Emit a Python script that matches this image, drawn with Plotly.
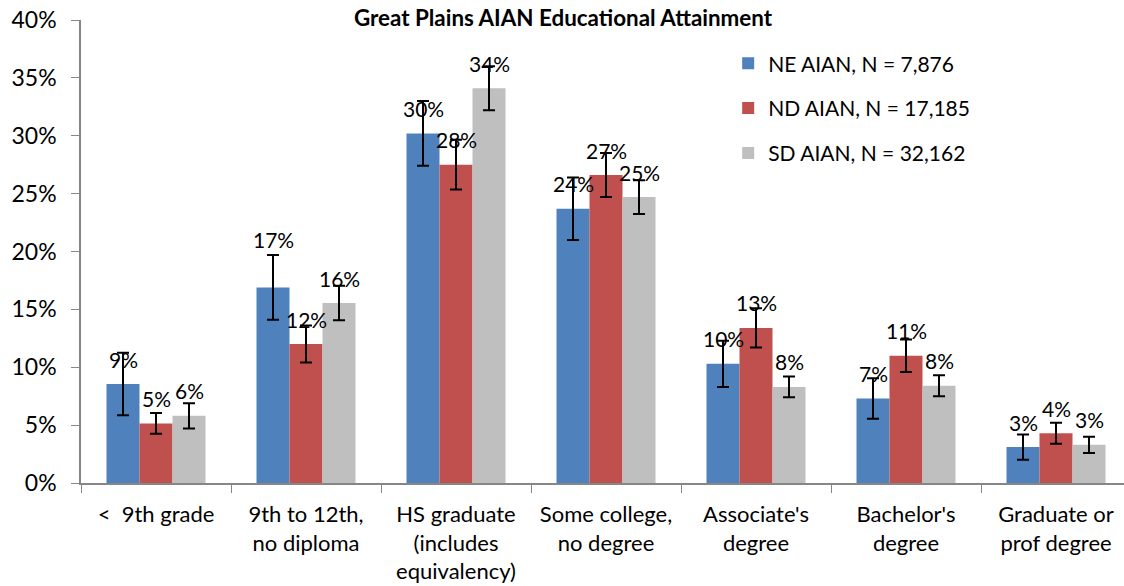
import plotly.graph_objects as go

categories = ["<  9th grade", "9th to 12th,<br>no diploma", "HS graduate<br>(includes<br>equivalency)",
              "Some college,<br>no degree", "Associate's<br>degree", "Bachelor's<br>degree",
              "Graduate or<br>prof degree"]
series_names = ["NE AIAN, N = 7,876", "ND AIAN, N = 17,185", "SD AIAN, N = 32,162"]
ne_values = [8.55, 16.9, 30.2, 23.7, 10.3, 7.3, 3.1]
nd_values = [5.15, 12.0, 27.5, 26.6, 13.4, 11.0, 4.3]
sd_values = [5.8, 15.55, 34.1, 24.7, 8.3, 8.4, 3.3]
ne_err = [2.7, 2.8, 2.8, 2.7, 2.0, 1.75, 1.1]
nd_err = [0.9, 1.6, 2.15, 1.9, 1.7, 1.4, 0.9]
sd_err = [1.1, 1.5, 1.9, 1.45, 0.9, 0.9, 0.7]

colors = ["#4F81BD", "#C0504D", "#BFBFBF"]
FONT = "Lato"

fig = go.Figure()
all_vals = [ne_values, nd_values, sd_values]
all_errs = [ne_err, nd_err, sd_err]
for name, vals, errs, col in zip(series_names, all_vals, all_errs, colors):
    fig.add_trace(go.Bar(
        x=categories, y=vals, name=name, legendgroup=name,
        marker=dict(color=col, line=dict(width=0)),
        error_y=dict(type="data", array=errs, visible=True, color="black", thickness=2, width=6),
    ))

BAR_PX = 33
annotations = []
for si, vals in enumerate(all_vals):
    for ci, v in enumerate(vals):
        shift = 25
        if si == 0 and ci == 1:
            shift = 48
        annotations.append(dict(
            x=categories[ci], y=v, xref="x", yref="y", text=f"{v:.0f}%",
            showarrow=False, xshift=(si - 1) * BAR_PX, yshift=shift, yanchor="middle",
            font=dict(family=FONT, size=21, color="black"),
        ))

W, H = 1124, 586
fig.update_layout(
    width=W, height=H,
    margin=dict(l=81, r=0, t=20, b=103, autoexpand=False),
    paper_bgcolor="white", plot_bgcolor="white",
    barmode="group", bargap=0.34, bargroupgap=0,
    font=dict(family=FONT, size=21, color="black"),
    title=dict(text="<b>Great Plains AIAN Educational Attainment</b>", x=563 / W, xanchor="center",
               y=1 - 18 / H, yanchor="middle", yref="container",
               font=dict(family=FONT, size=22.4, color="black")),
    legend=dict(x=0.6205, y=0.950, xanchor="left", yanchor="top", tracegroupgap=14.5,
                font=dict(family=FONT, size=21, color="black"), bgcolor="rgba(0,0,0,0)"),
    annotations=annotations,
    showlegend=True,
)
fig.update_xaxes(range=[-0.5, -0.5 + 1043 / 150], showline=True, linecolor="#868686", linewidth=1.5,
                 ticks="outside", tickson="boundaries", ticklen=8, tickcolor="#868686",
                 tickangle=0, showgrid=False, ticklabelstandoff=11, automargin=False,
                 tickfont=dict(family=FONT, size=22, color="black"))
fig.update_yaxes(range=[0, 40], dtick=5, ticksuffix="%", showline=True, linecolor="#868686",
                 linewidth=1.5, ticks="outside", ticklen=8, tickcolor="#868686", showgrid=False,
                 zeroline=False, ticklabelstandoff=10, automargin=False, ticklabeloverflow="allow",
                 tickfont=dict(family=FONT, size=23, color="black"))

fig.write_html("out.html", config={"displayModeBar": False},
               post_script="document.body.style.margin='0';")
